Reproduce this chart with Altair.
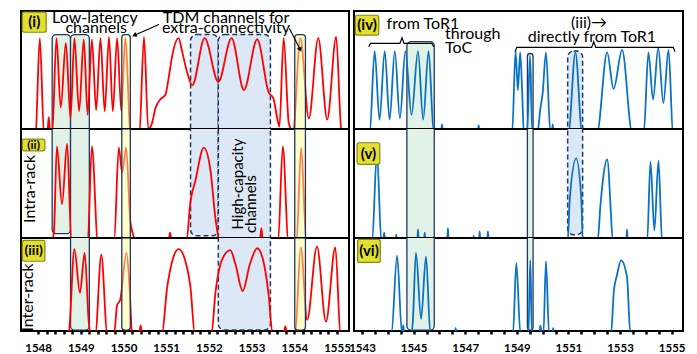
import altair as alt
import pandas as pd

FONT = "Lato"
RED = "#FF0000"
BLUE = "#0A72C4"
NAVY = "#1F3864"
GREEN_FILL = "#E2F2E7"
YELLOW_FILL = "#FFFF9A"
BLUE_FILL = "#DCE8F5"
BADGE_FILL = "#E2DF2E"
BADGE_STROKE = "#8A8716"

LEFT_DOMAIN = [1547.60, 1555.28]
RIGHT_DOMAIN = [1542.69, 1555.44]
LEFT_W = 328
RIGHT_W = 329
ROW_H = [118, 109, 93]

LEFT_LABELS = [1548, 1549, 1550, 1551, 1552, 1553, 1554, 1555]
RIGHT_LABELS = [1543, 1545, 1547, 1549, 1551, 1553, 1555]

# ---------------- spectra (wavelength nm, normalised power) ----------------
SPEC_I = [(1547.60, -0.10), (1547.94, -0.05), (1548.04, 0.77), (1548.14, -0.05),
          (1548.22, -0.02), (1548.25, 0.10), (1548.28, -0.02), (1548.33, -0.05),
          (1548.43, 0.77), (1548.53, 0.18), (1548.65, 0.73), (1548.76, 0.09),
          (1548.85, 0.77), (1548.96, 0.15), (1549.07, 0.76), (1549.16, 0.12),
          (1549.26, 0.76), (1549.36, 0.16), (1549.46, 0.77), (1549.56, 0.15),
          (1549.66, 0.78), (1549.75, 0.15), (1549.85, 0.77), (1549.95, 0.15),
          (1550.04, 0.77), (1550.17, -0.05), (1550.37, -0.05), (1550.48, 0.78),
          (1550.58, 0.00), (1550.66, 0.04), (1550.75, 0.18), (1550.86, 0.25),
          (1550.98, 0.29), (1551.06, 0.44), (1551.14, 0.62), (1551.29, 0.77),
          (1551.37, 0.66), (1551.49, 0.48), (1551.61, 0.37), (1551.90, 0.77),
          (1552.22, 0.40), (1552.53, 0.77), (1552.82, 0.33), (1553.13, 0.76),
          (1553.40, 0.31), (1553.51, 0.26), (1553.60, 0.09), (1553.65, 0.02),
          (1553.75, 0.77), (1553.87, 0.05), (1553.97, -0.02), (1554.14, 0.77),
          (1554.34, 0.09), (1554.56, 0.77), (1554.77, 0.08), (1554.98, 0.78),
          (1555.10, 0.00), (1555.28, -0.05)]

SPEC_II = [(1547.60, -0.05), (1548.30, -0.05), (1548.37, 0.05), (1548.44, 0.84),
           (1548.56, 0.31), (1548.68, 0.865), (1548.78, -0.03), (1549.16, -0.05),
           (1549.26, 0.84), (1549.40, -0.04), (1549.78, -0.03), (1549.89, 0.83),
           (1549.97, 0.60), (1550.06, 0.83), (1550.16, 0.15), (1550.22, 0.04),
           (1550.30, -0.05), (1551.05, -0.03), (1551.09, 0.05), (1551.13, -0.03),
           (1551.47, -0.03), (1551.57, 0.34), (1551.68, 0.52), (1551.88, 0.83),
           (1552.04, 0.61), (1552.15, 0.19), (1552.26, -0.03), (1553.19, -0.03),
           (1553.23, 0.09), (1553.26, -0.03), (1553.62, -0.03), (1553.73, 0.84),
           (1553.86, -0.03), (1554.05, -0.03), (1554.16, 0.83), (1554.28, -0.03),
           (1555.28, -0.05)]

SPEC_III = [(1547.60, -0.05), (1548.68, -0.05), (1548.72, -0.02), (1548.85, 0.88),
            (1548.98, 0.41), (1549.09, 0.84), (1549.19, 0.08), (1549.24, -0.03),
            (1549.34, -0.03), (1549.48, 0.82), (1549.62, -0.03), (1549.78, -0.03),
            (1549.85, 0.28), (1549.92, 0.33), (1550.07, 0.84), (1550.15, 0.40),
            (1550.20, -0.03), (1550.36, -0.05), (1550.40, 0.06), (1550.44, -0.05),
            (1550.90, -0.03), (1551.02, 0.46), (1551.14, 0.75), (1551.29, 0.88),
            (1551.45, 0.75), (1551.57, 0.46), (1551.67, -0.03), (1552.06, -0.03),
            (1552.15, 0.40), (1552.31, 0.77), (1552.50, 0.87), (1552.62, 0.72),
            (1552.79, 0.43), (1552.96, 0.72), (1553.13, 0.89), (1553.29, 0.72),
            (1553.40, 0.38), (1553.49, -0.03), (1553.75, -0.03), (1553.79, 0.05),
            (1553.83, -0.03), (1554.02, -0.03), (1554.15, 0.90), (1554.30, 0.12),
            (1554.53, 0.91), (1554.74, 0.10), (1554.96, 0.90), (1555.08, -0.03),
            (1555.28, -0.05)]

SPEC_IV = [(1542.69, -0.05), (1543.30, -0.03), (1543.49, 0.66), (1543.68, 0.08),
           (1543.88, 0.66), (1544.07, 0.08), (1544.27, 0.66), (1544.47, 0.09),
           (1544.68, 0.66), (1544.92, 0.12), (1545.17, 0.66), (1545.37, 0.08),
           (1545.58, 0.66), (1545.78, -0.03), (1546.06, -0.03), (1546.10, 0.04),
           (1546.14, -0.03), (1547.48, -0.03), (1547.52, 0.03), (1547.56, -0.03),
           (1548.82, -0.03), (1548.95, 0.66), (1549.04, 0.33), (1549.13, 0.65),
           (1549.21, 0.30), (1549.27, -0.03), (1549.40, -0.03), (1549.51, 0.62),
           (1549.60, -0.03), (1549.80, -0.03), (1549.91, 0.17), (1550.00, 0.30),
           (1550.13, 0.65), (1550.30, -0.03), (1550.36, -0.03), (1550.39, 0.04),
           (1550.42, -0.03), (1551.00, -0.03), (1551.27, 0.65), (1551.53, -0.03),
           (1552.11, -0.03), (1552.50, 0.65), (1552.75, 0.34), (1553.08, 0.67),
           (1553.47, -0.03), (1553.92, -0.03), (1554.10, 0.65), (1554.28, 0.25),
           (1554.48, 0.69), (1554.68, 0.22), (1554.88, 0.67), (1555.05, -0.03),
           (1555.44, -0.05)]

SPEC_V = [(1542.69, -0.05), (1543.39, -0.03), (1543.58, 0.78), (1543.75, -0.03),
          (1543.82, -0.03), (1543.86, 0.05), (1543.90, -0.03), (1544.30, -0.03),
          (1544.33, 0.03), (1544.36, -0.03), (1545.14, -0.03), (1545.17, 0.08),
          (1545.20, -0.03), (1545.40, -0.03), (1545.43, 0.05), (1545.46, -0.03),
          (1546.30, -0.03), (1546.33, 0.09), (1546.36, -0.03), (1547.30, -0.03),
          (1547.33, 0.02), (1547.36, -0.03), (1547.53, -0.03), (1547.56, 0.06),
          (1547.59, -0.03), (1547.85, -0.03), (1547.88, 0.06), (1547.91, -0.03),
          (1550.97, -0.03), (1551.05, 0.35), (1551.30, 0.73), (1551.50, 0.35),
          (1551.56, -0.03), (1552.13, -0.03), (1552.24, 0.30), (1552.50, 0.72),
          (1552.74, -0.03), (1553.24, -0.03), (1553.27, 0.08), (1553.30, -0.03),
          (1554.05, -0.03), (1554.18, 0.70), (1554.33, 0.07), (1554.49, 0.71),
          (1554.63, -0.03), (1555.44, -0.05)]

SPEC_VI = [(1542.69, -0.05), (1544.14, -0.03), (1544.36, 0.81), (1544.55, -0.03),
           (1544.60, 0.06), (1544.64, -0.03), (1544.90, -0.03), (1544.97, 0.10),
           (1545.09, 0.84), (1545.29, 0.13), (1545.48, 0.80), (1545.65, -0.03),
           (1546.60, -0.03), (1546.63, 0.03), (1546.66, -0.03), (1548.85, -0.03),
           (1548.98, 0.73), (1549.14, -0.03), (1549.45, -0.03), (1549.52, 0.76),
           (1549.59, -0.03), (1549.88, -0.03), (1549.91, 0.06), (1549.95, 0.00),
           (1550.03, -0.03), (1550.13, 0.75), (1550.25, -0.03), (1550.38, -0.03),
           (1550.41, 0.03), (1550.44, -0.03), (1552.65, -0.03), (1552.76, 0.43),
           (1552.88, 0.60), (1553.04, 0.76), (1553.27, 0.58), (1553.40, -0.03),
           (1555.44, -0.05)]

# ---------------- highlighted channel boxes: (wl0, wl1, v0, v1) ----------------
BOX_I_GREEN = [(1548.33, 1548.76, -0.1, 0.80), (1548.76, 1549.20, -0.1, 0.80)]
BOX_I_BLUE = [(1551.57, 1552.22, -0.1, 0.80), (1552.22, 1553.44, -0.1, 0.80)]
BOX_I_YELLOW = [(1549.96, 1550.16, -0.1, 0.80), (1554.01, 1554.26, -0.1, 0.80)]

BOX_II_GREEN = [(1548.33, 1548.76, 0.04, 1.1), (1548.76, 1549.20, -0.1, 1.1)]
BOX_II_BLUE = [(1551.57, 1552.22, 0.02, 1.1), (1552.22, 1553.44, -0.1, 1.1)]
BOX_II_YELLOW = [(1549.96, 1550.16, -0.1, 1.1), (1554.01, 1554.26, -0.1, 1.1)]

BOX_III_GREEN = [(1548.76, 1549.20, 0.01, 1.1)]
BOX_III_BLUE = [(1552.22, 1553.44, 0.01, 1.1)]
BOX_III_YELLOW = [(1549.96, 1550.16, 0.01, 1.1), (1554.01, 1554.26, 0.01, 1.1)]

BOX_IV_GREEN = [(1544.74, 1545.80, -0.1, 0.74), (1549.41, 1549.63, -0.1, 0.64)]
BOX_IV_BLUE = [(1550.97, 1551.55, -0.1, 0.66)]
BOX_V_GREEN = [(1544.74, 1545.80, -0.1, 1.1), (1549.41, 1549.63, -0.1, 1.1)]
BOX_V_BLUE = [(1550.97, 1551.55, 0.03, 1.1)]
BOX_VI_GREEN = [(1544.74, 1545.80, 0.01, 1.1), (1549.41, 1549.63, 0.01, 1.1)]

# ---------------- badges: (wl0, wl1, v0, v1, label, font size) ----------------
BADGE_I = (1547.63, 1548.19, 0.82, 0.99, "(i)", 15)
BADGE_II = (1547.63, 1548.16, 0.80, 0.908, "(ii)", 12)
BADGE_III = (1547.63, 1548.16, 0.75, 0.975, "(iii)", 14)
BADGE_IV = (1542.74, 1543.65, 0.796, 0.964, "(iv)", 15)
BADGE_V = (1542.81, 1543.69, 0.676, 0.874, "(v)", 15)
BADGE_VI = (1542.83, 1543.71, 0.737, 0.986, "(vi)", 15)

# ---------------- annotation texts: (text, wl, v, size, align, angle) ----------------
TEXT_I = [("Low-latency", 1549.33, 0.90, 16, "center", 0),
          ("channels", 1549.36, 0.815, 16, "center", 0),
          ("TDM channels for", 1552.40, 0.90, 16, "center", 0),
          ("extra-connectivity", 1552.40, 0.815, 16, "center", 0)]
TEXT_II = [("Intra-rack", 1547.81, 0.45, 16, "center", 270),
           ("High-capacity", 1552.68, 0.495, 15, "center", 270),
           ("channels", 1552.99, 0.31, 15, "center", 270)]
TEXT_III = [("Inter-rack", 1547.77, 0.36, 16, "center", 270)]
TEXT_IV = [("from ToR1", 1545.36, 0.85, 16, "center", 0),
           ("through", 1546.22, 0.762, 16, "left", 0),
           ("ToC", 1546.22, 0.641, 16, "left", 0),
           ("(iii)\u2192", 1551.80, 0.857, 16, "center", 0),
           ("directly from ToR1", 1551.91, 0.734, 16, "center", 0)]

ARROWS_I = [[(1550.83, 0.885), (1550.27, 0.796)], [(1553.885, 0.851), (1554.13, 0.678)]]
ARROW_HEAD_ANGLES = [246, 153]

BRACES_IV = [[(1543.26, 0.697), (1543.33, 0.725), (1544.47, 0.725), (1544.55, 0.773),
              (1544.63, 0.725), (1545.71, 0.725), (1545.78, 0.697)],
             [(1548.93, 0.655), (1549.00, 0.692), (1551.90, 0.692), (1551.98, 0.739),
              (1552.06, 0.692), (1555.06, 0.692), (1555.13, 0.655)]]

LEFT_TICKS = [round(1548 + 0.2 * i, 2) for i in range(36)]
RIGHT_TICKS = [round(1543 + 0.5 * i, 2) for i in range(25)]


def make_axis(ticks, odd_only):
    cond = "abs(datum.value - round(datum.value)) < 0.001"
    if odd_only:
        cond += " && round(datum.value) % 2 == 1"
    return alt.Axis(values=ticks, labelExpr=f"({cond}) ? toString(round(datum.value)) : ''",
                    domain=False, ticks=True, tickSize=3, tickWidth=2.5, tickColor="black",
                    labelFont=FONT, labelFontSize=11.5, labelFontWeight="bold",
                    labelColor="black", labelPadding=8, grid=False, title=None,
                    labelFlush=False, labelOverlap=False, labelBound=False)


def panel(spec, color, domain, width, height, green, blue, yellow, badge, texts,
          axis, arrows=None, braces=None):
    xs = alt.Scale(domain=domain, nice=False, zero=False)
    ys = alt.Scale(domain=[0, 1], nice=False, zero=False)

    def X(f):
        return alt.X(f, type="quantitative", scale=xs, axis=axis)

    def Y(f):
        return alt.Y(f, type="quantitative", scale=ys, axis=None)

    layers = []

    def boxes(rows, **kw):
        df = pd.DataFrame(rows, columns=["x0", "x1", "y0", "y1"])
        return alt.Chart(df).mark_rect(clip=True, stroke=NAVY, **kw).encode(
            x=X("x0"), x2=alt.X2("x1"), y=Y("y0"), y2=alt.Y2("y1"))

    if green:
        layers.append(boxes(green, fill=GREEN_FILL, strokeWidth=1.3, cornerRadius=4))
    if blue:
        layers.append(boxes(blue, fill=BLUE_FILL, strokeWidth=1.5, strokeDash=[5, 3],
                            cornerRadius=6))

    sdf = pd.DataFrame(spec, columns=["wl", "p"])
    sdf["o"] = range(len(sdf))
    layers.append(alt.Chart(sdf).mark_line(color=color, strokeWidth=1.8,
                                           interpolate="monotone", clip=True).encode(
        x=X("wl"), y=Y("p"), order="o:Q"))

    if yellow:
        layers.append(boxes(yellow, fill=YELLOW_FILL, fillOpacity=0.5, strokeWidth=1.3,
                            cornerRadius=3))

    # badge
    bx0, bx1, by0, by1, blabel, bsize = badge
    bdf = pd.DataFrame([{"x0": bx0, "x1": bx1, "y0": by0, "y1": by1,
                         "cx": (bx0 + bx1) / 2, "cy": (by0 + by1) / 2, "t": blabel}])
    layers.append(alt.Chart(bdf).mark_rect(fill=BADGE_FILL, stroke=BADGE_STROKE,
                                           strokeWidth=1.2, cornerRadius=2).encode(
        x=X("x0"), x2=alt.X2("x1"), y=Y("y0"), y2=alt.Y2("y1")))
    layers.append(alt.Chart(bdf).mark_text(font=FONT, fontWeight="bold", fontSize=bsize,
                                           color="black", baseline="middle",
                                           align="center").encode(
        x=X("cx"), y=Y("cy"), text="t:N"))

    for (t, wl, v, size, align, angle) in texts:
        tdf = pd.DataFrame([{"wl": wl, "v": v, "t": t}])
        kw = dict(font=FONT, fontSize=size, color="black", align=align)
        if angle:
            kw["angle"] = angle
            kw["baseline"] = "middle"
        else:
            kw["baseline"] = "alphabetic"
        layers.append(alt.Chart(tdf).mark_text(**kw).encode(x=X("wl"), y=Y("v"), text="t:N"))

    if arrows:
        for (pts, ang) in arrows:
            adf = pd.DataFrame(pts, columns=["wl", "v"])
            adf["o"] = range(len(adf))
            layers.append(alt.Chart(adf).mark_line(color="black", strokeWidth=1.1).encode(
                x=X("wl"), y=Y("v"), order="o:Q"))
            hdf = adf.tail(1)
            layers.append(alt.Chart(hdf).mark_point(shape="triangle", filled=True,
                                                    color="black", size=28, opacity=1,
                                                    angle=ang).encode(
                x=X("wl"), y=Y("v")))
    if braces:
        for pts in braces:
            rdf = pd.DataFrame(pts, columns=["wl", "v"])
            rdf["o"] = range(len(rdf))
            layers.append(alt.Chart(rdf).mark_line(color="black", strokeWidth=1.2).encode(
                x=X("wl"), y=Y("v"), order="o:Q"))

    return alt.layer(*layers).properties(width=width, height=height)


left_axis = make_axis(LEFT_TICKS, False)
right_axis = make_axis(RIGHT_TICKS, True)

p1 = panel(SPEC_I, RED, LEFT_DOMAIN, LEFT_W, ROW_H[0], BOX_I_GREEN, BOX_I_BLUE,
           BOX_I_YELLOW, BADGE_I, TEXT_I, None,
           arrows=list(zip(ARROWS_I, ARROW_HEAD_ANGLES)))
p2 = panel(SPEC_II, RED, LEFT_DOMAIN, LEFT_W, ROW_H[1], BOX_II_GREEN, BOX_II_BLUE,
           BOX_II_YELLOW, BADGE_II, TEXT_II, None)
p3 = panel(SPEC_III, RED, LEFT_DOMAIN, LEFT_W, ROW_H[2], BOX_III_GREEN, BOX_III_BLUE,
           BOX_III_YELLOW, BADGE_III, TEXT_III, left_axis)

p4 = panel(SPEC_IV, BLUE, RIGHT_DOMAIN, RIGHT_W, ROW_H[0], BOX_IV_GREEN, BOX_IV_BLUE,
           None, BADGE_IV, TEXT_IV, None, braces=BRACES_IV)
p5 = panel(SPEC_V, BLUE, RIGHT_DOMAIN, RIGHT_W, ROW_H[1], BOX_V_GREEN, BOX_V_BLUE,
           None, BADGE_V, [], None)
p6 = panel(SPEC_VI, BLUE, RIGHT_DOMAIN, RIGHT_W, ROW_H[2], BOX_VI_GREEN, None,
           None, BADGE_VI, [], right_axis)

chart = alt.concat(p1, p4, p2, p5, p3, p6, columns=2,
                   spacing={"row": 0, "column": 5}, bounds="flush").properties(
    padding={"left": 11, "top": 0, "right": 0, "bottom": 0},
    background="white",
).configure_view(stroke="black", strokeWidth=2)

chart.save("out.html", embed_options={"renderer": "svg", "actions": False})
